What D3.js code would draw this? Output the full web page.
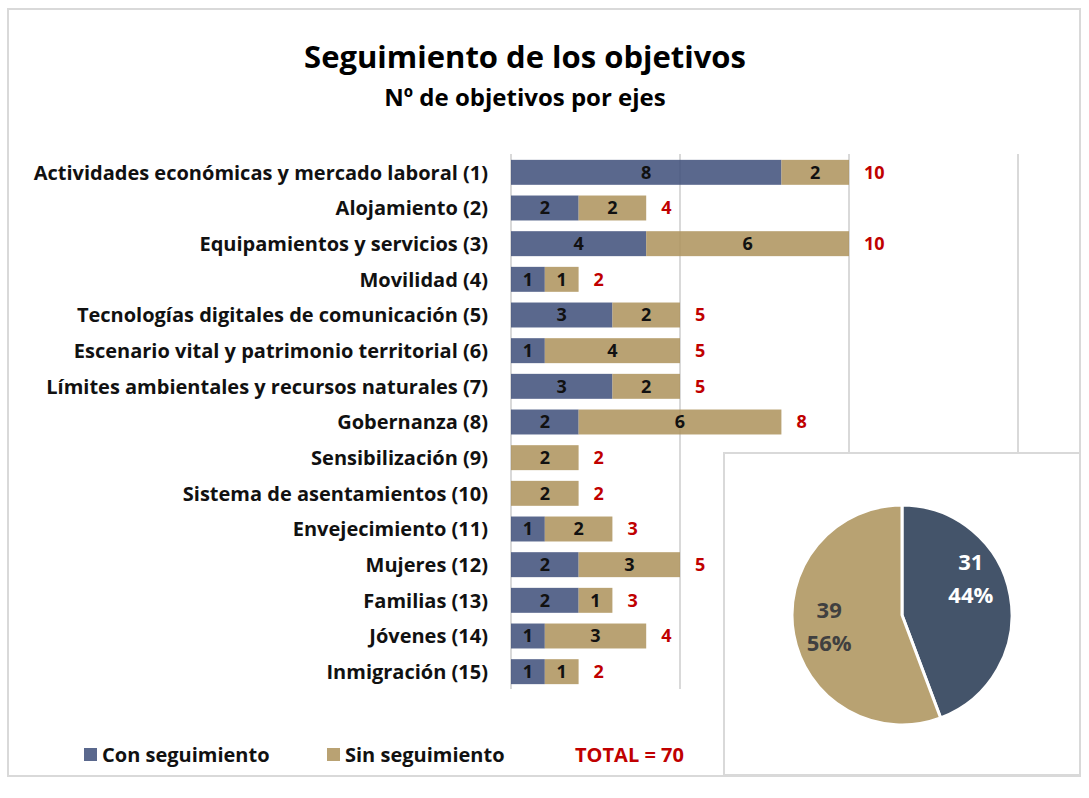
<!DOCTYPE html>
<html>
<head>
<meta charset="utf-8">
<script src="https://cdn.jsdelivr.net/npm/d3@7"></script>
<style>
body { margin: 0; background: #fff; }
</style>
</head>
<body>
<script>
// ejes y numero de objetivos
var ejes = ["Actividades económicas y mercado laboral (1)", "Alojamiento (2)",
	"Equipamientos y servicios (3)", "Movilidad (4)",
	"Tecnologías digitales de comunicación (5)", "Escenario vital y patrimonio territorial (6)",
	"Límites ambientales y recursos naturales (7)", "Gobernanza (8)",
	"Sensibilización (9)", "Sistema de asentamientos (10)", "Envejecimiento (11)",
	"Mujeres (12)", "Familias (13)", "Jóvenes (14)", "Inmigración (15)"]
var conSeguimiento = [8, 2, 4, 1, 3, 1, 3, 2, 0, 0, 1, 2, 2, 1, 1]
var sinSeguimiento = [2, 2, 6, 1, 2, 4, 2, 6, 2, 2, 2, 3, 1, 3, 1]
var series = ["Con seguimiento", "Sin seguimiento"]
var gridTicks = [0, 5, 10, 15]

var barColors = ['#3f4f7a', '#ad935c']
var pieColors = ['#44546a', '#b8a272']
var font = '"Open Sans", sans-serif'

var body = d3.select('body')
var svg = body.append('svg')
	.attr('width', 1089)
	.attr('height', 798)

// marco
svg.append('rect')
	.attr('x', 8).attr('y', 9)
	.attr('width', 1072).attr('height', 767)
	.style('fill', 'white')
	.style('stroke', '#d9d9d9')
	.style('stroke-width', 2)

// titulos
svg.append('text')
	.attr('x', 525).attr('y', 68)
	.attr('text-anchor', 'middle')
	.style('font-family', font).style('font-weight', 'bold').style('font-size', '31px')
	.text('Seguimiento de los objetivos')
svg.append('text')
	.attr('x', 525).attr('y', 106)
	.attr('text-anchor', 'middle')
	.style('font-family', font).style('font-weight', 'bold').style('font-size', '24px')
	.text('Nº de objetivos por ejes')

// escalas
var x = d3.scaleLinear().domain([0, 10]).range([511, 849])
var y = d3.scaleBand().domain(ejes).range([154.5, 689.5]).paddingInner(0.3).paddingOuter(0.15)

// rejilla
svg.append('g').selectAll('line')
	.data(gridTicks)
	.enter().append('line')
	.attr('x1', d => x(d)).attr('x2', d => x(d))
	.attr('y1', 154).attr('y2', 689)
	.style('stroke', '#d9d9d9')
	.style('stroke-width', 2)

// barras apiladas
var rows = ejes.map(function(e, i) {
	return { eje: e, con: conSeguimiento[i], sin: sinSeguimiento[i] }
})
var stack = d3.stack().keys(['con', 'sin'])(rows)

var layers = svg.append('g').selectAll('g')
	.data(stack)
	.enter().append('g')
	.style('fill', (d, i) => barColors[i])

layers.selectAll('rect')
	.data(d => d)
	.enter().append('rect')
	.attr('x', d => x(d[0]))
	.attr('y', d => y(d.data.eje))
	.attr('width', d => x(d[1]) - x(d[0]))
	.attr('height', y.bandwidth())
	.style('opacity', 0.86)

// etiquetas de segmento
layers.selectAll('text')
	.data(d => d.filter(s => s[1] - s[0] > 0))
	.enter().append('text')
	.attr('x', d => (x(d[0]) + x(d[1])) / 2)
	.attr('y', d => y(d.data.eje) + y.bandwidth() / 2)
	.attr('dy', '0.36em')
	.attr('text-anchor', 'middle')
	.style('fill', '#111')
	.style('font-family', font).style('font-weight', 'bold').style('font-size', '18px')
	.text(d => d[1] - d[0])

// totales
svg.append('g').selectAll('text')
	.data(rows)
	.enter().append('text')
	.attr('x', d => x(d.con + d.sin) + 15)
	.attr('y', d => y(d.eje) + y.bandwidth() / 2)
	.attr('dy', '0.36em')
	.style('fill', '#c00000')
	.style('font-family', font).style('font-weight', 'bold').style('font-size', '18px')
	.text(d => d.con + d.sin)

// ejes (nombres)
svg.append('g').selectAll('text')
	.data(ejes)
	.enter().append('text')
	.attr('x', 488)
	.attr('y', d => y(d) + y.bandwidth() / 2)
	.attr('dy', '0.36em')
	.attr('text-anchor', 'end')
	.style('fill', '#111')
	.style('font-family', font).style('font-weight', 'bold').style('font-size', '20px')
	.text(d => d)

// leyenda
var legend = svg.append('g')
var legendX = [84, 327]
legend.selectAll('rect')
	.data(series)
	.enter().append('rect')
	.attr('x', (d, i) => legendX[i])
	.attr('y', 748)
	.attr('width', 13).attr('height', 13)
	.style('fill', (d, i) => barColors[i])
	.style('opacity', 0.86)
legend.selectAll('text')
	.data(series)
	.enter().append('text')
	.attr('x', (d, i) => legendX[i] + 18)
	.attr('y', 762)
	.style('fill', '#111')
	.style('font-family', font).style('font-weight', 'bold').style('font-size', '20px')
	.text(d => d)

var total = d3.sum(conSeguimiento) + d3.sum(sinSeguimiento)
legend.append('text')
	.attr('x', 575).attr('y', 762)
	.style('fill', '#c00000')
	.style('font-family', font).style('font-weight', 'bold').style('font-size', '20px')
	.text('TOTAL = ' + total)

// tarta
svg.append('rect')
	.attr('x', 724).attr('y', 453)
	.attr('width', 356).attr('height', 322)
	.style('fill', 'white')
	.style('stroke', '#d9d9d9')
	.style('stroke-width', 2)

var pieData = [d3.sum(conSeguimiento), d3.sum(sinSeguimiento)]
var pie = d3.pie().sort(null)
var arc = d3.arc().innerRadius(0).outerRadius(110)
var labelArc = d3.arc().innerRadius(72).outerRadius(72)
var labelShift = [-24, -2]

var pieGroup = svg.append('g')
	.attr('transform', 'translate(902,615)')

pieGroup.selectAll('path')
	.data(pie(pieData))
	.enter().append('path')
	.attr('d', arc)
	.style('fill', (d, i) => pieColors[i])
	.style('stroke', 'white')
	.style('stroke-width', 3)

var pieLabels = pieGroup.selectAll('text')
	.data(pie(pieData))
	.enter().append('text')
	.attr('transform', function(d, i) {
		var c = labelArc.centroid(d)
		return 'translate(' + (c[0] - 2) + ',' + (c[1] + labelShift[i]) + ')'
	})
	.attr('text-anchor', 'middle')
	.style('fill', (d, i) => i == 0 ? 'white' : '#404040')
	.style('font-family', font).style('font-weight', 'bold').style('font-size', '22px')

pieLabels.append('tspan')
	.attr('x', 0).attr('y', -8)
	.text(d => d.value)
pieLabels.append('tspan')
	.attr('x', 0).attr('y', 25)
	.text(d => Math.round(d.value / total * 100) + '%')
</script>
</body>
</html>
